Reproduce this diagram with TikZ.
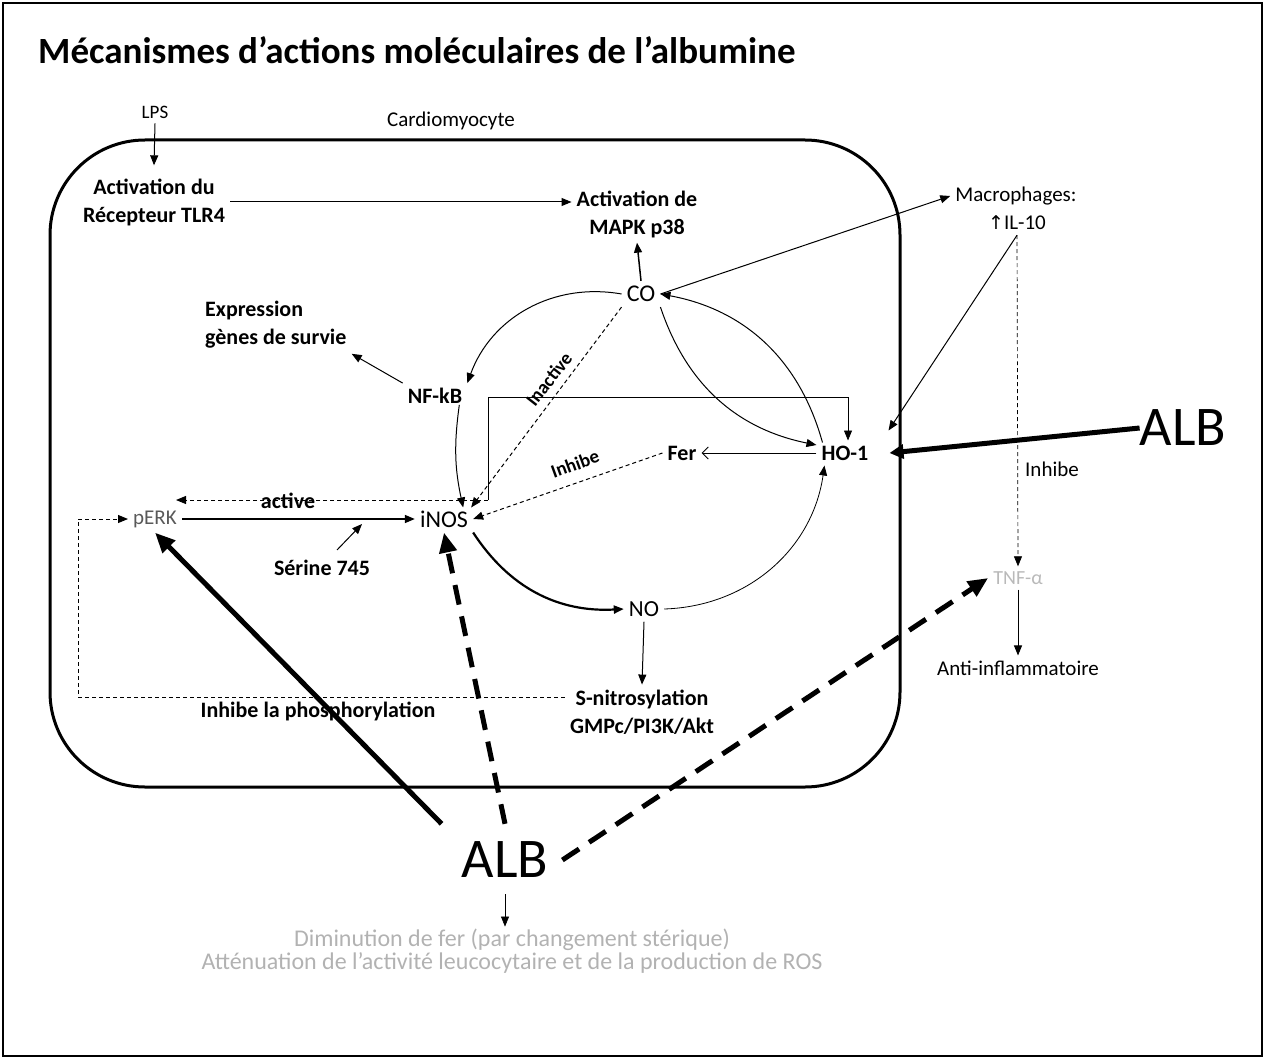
\documentclass[tikz,border=0pt]{standalone}
\usepackage{fontspec}
\setmainfont{Carlito}
\newfontfamily\dvs{DejaVu Sans}
\usetikzlibrary{arrows.meta}
\begin{document}
\begin{tikzpicture}[x=1pt,y=-1pt,
  lb/.style={font=\bfseries\fontsize{22}{28}\selectfont, align=center, inner sep=5pt},
  rg/.style={font=\fontsize{21}{26}\selectfont, align=center, inner sep=5pt},
  arr/.style={-{Triangle[length=10pt,width=8pt]}, line width=1pt},
  darr/.style={arr, dash pattern=on 4pt off 3pt},
  big/.style={font=\fontsize{56}{60}\selectfont, inner sep=0pt},
  thickarr/.style={-{Triangle[length=20pt,width=17pt]}, line width=5pt},
  thickdash/.style={thickarr, dash pattern=on 20pt off 12pt},
]
\useasboundingbox (0,0) rectangle (1265,1059);
\draw[line width=1.2pt] (3,3) rectangle (1262,1056);
\node[anchor=base west, font=\bfseries\fontsize{37}{40}\selectfont, inner sep=0pt] (title) at (38,64) {Mécanismes d’actions moléculaires de l’albumine};
% cell
\draw[line width=3pt, rounded corners=95pt] (50,140) rectangle (900,787);
% nodes
\node[rg, font=\fontsize{19}{22}\selectfont] (lps) at (155,112) {LPS};
\node[rg] (cardio) at (451,121) {Cardiomyocyte};
\node[lb] (tlr) at (154,202) {Activation du\\Récepteur TLR4};
\node[lb] (mapk) at (637,214) {Activation de\\MAPK p38};
\node[rg, font=\fontsize{24}{26}\selectfont] (co) at (641,294) {CO};
\node[lb, align=left, anchor=west] (expr) at (200,325) {Expression\\gènes de survie};
\node[lb] (nfkb) at (435,396) {NF-kB};
\node[lb] (fer) at (682,453) {Fer};
\node[lb] (ho) at (845,453) {HO-1};
\node[rg, font=\fontsize{24}{26}\selectfont] (inos) at (444,519) {iNOS};
\node[rg, text=gray!70!black] (perk) at (155,519) {pERK};
\node[lb, inner sep=0pt] (active) at (288,501) {active};
\node[lb] (serine) at (322,568) {Sérine 745};
\node[rg, font=\fontsize{23}{26}\selectfont] (no) at (644,609) {NO};
\node[lb] (snit) at (642,712) {S-nitrosylation\\GMPc/PI3K/Akt};
\node[lb, inner sep=0pt] (inhphos) at (318,711) {Inhibe la phosphorylation};
\node[lb, inner sep=0pt, font=\bfseries\fontsize{19}{22}\selectfont, rotate=52] (inact) at (549,379) {Inactive};
\node[lb, inner sep=0pt, font=\bfseries\fontsize{19}{22}\selectfont, rotate=20] (inh1) at (575,464) {Inhibe};
\node[rg] (macro) at (1016,196) {Macrophages:};
\node[rg] (il10) at (1017,223) {{\dvs\fontsize{19}{22}\selectfont ↑}IL-10};
\node[rg] (inh2) at (1052,469) {Inhibe};
\node[rg, font=\fontsize{20}{22}\selectfont, text=gray!55] (tnf) at (1018,578) {TNF-α};
\node[rg] (anti) at (1018,668) {Anti-inflammatoire};
\node[big] (albr) at (1183,428) {ALB};
\node[big] (albb) at (505,860) {ALB};
\node[rg, font=\fontsize{24}{23}\selectfont, text=gray!60, inner sep=2pt] (bot) at (512,951) {Diminution de fer (par changement stérique)\\Atténuation de l’activité leucocytaire et de la production de ROS};
% coordinates
\coordinate (b1) at (488,500);
\coordinate (b2) at (488,397);
\coordinate (b3) at (848,397);
\coordinate (pk) at (176,500);
\coordinate (s1) at (337,550);
\coordinate (s2) at (362,524);
\coordinate (l1) at (78,697);
\coordinate (l2) at (78,519);
% connectors
\draw[arr] (lps.south) -- ([yshift=8pt]tlr.north);
\draw[arr] (tlr.east) -- (tlr.east -| mapk.west);
\draw[arr, line width=1.5pt] (co.north) -- (mapk.south);
\draw[arr] (co.west) to[bend right=40] (nfkb.north east);
\draw[arr] (nfkb.north west) -- (expr.south east);
\draw[arr] ([xshift=-8pt,yshift=4pt]nfkb.south east) to[bend right=10] ([xshift=-10pt,yshift=-2pt]inos.north east);
\draw[darr] (co.south west) -- ([xshift=-2pt,yshift=-2pt]inos.north east);
\draw[darr] (fer.west) -- (inos.east);
\draw[-{Straight Barb[length=6pt,width=12pt]}, line width=1pt] (ho.west) -- (fer.east);
\draw[arr] (co.south east) to[bend right=30] ([yshift=8pt]ho.west);
\draw[arr] ([xshift=6pt,yshift=-2pt]ho.north west) to[bend right=32] (co.east);
\draw[arr, line width=0.8pt] (b1) -- (b2) -- (b3) -- (b3 |- ho.north);
\draw[darr] (b1) -- (pk);
\draw[arr, line width=1.5pt] (perk.east) -- (inos.west);
\draw[arr] (s1) -- (s2);
\draw[arr, line width=2.2pt] (inos.south east) to[bend right=30] (no.west);
\draw[arr, line width=0.8pt] (no.east) to[bend right=40] ([xshift=8pt]ho.south west);
\draw[arr] (no.south) -- (snit.north);
\draw[darr] (snit.west |- l1) -- (l1) -- (l2) -- (perk.west);
\draw[arr] (co.east) -- (macro.west);
\draw[arr] (il10.south) -- ([xshift=15pt,yshift=10pt]ho.north east);
\draw[darr, line width=0.7pt] (il10.south) -- (tnf.north);
\draw[arr] (tnf.south) -- (anti.north);
\draw[thickarr, -{Triangle[length=14pt,width=14pt]}] (albr.west) -- ([xshift=16pt]ho.east);
\draw[thickarr] ([xshift=-20pt,yshift=18pt]albb.north west) -- (perk.south);
\draw[thickdash] ([yshift=18pt]albb.north) -- (inos.south);
\draw[thickdash] ([xshift=14pt]albb.east) -- (tnf.west);
\draw[arr, line width=0.6pt, shorten <=16pt] (albb.south) -- (albb.south |- bot.north);
\end{tikzpicture}
\end{document}
